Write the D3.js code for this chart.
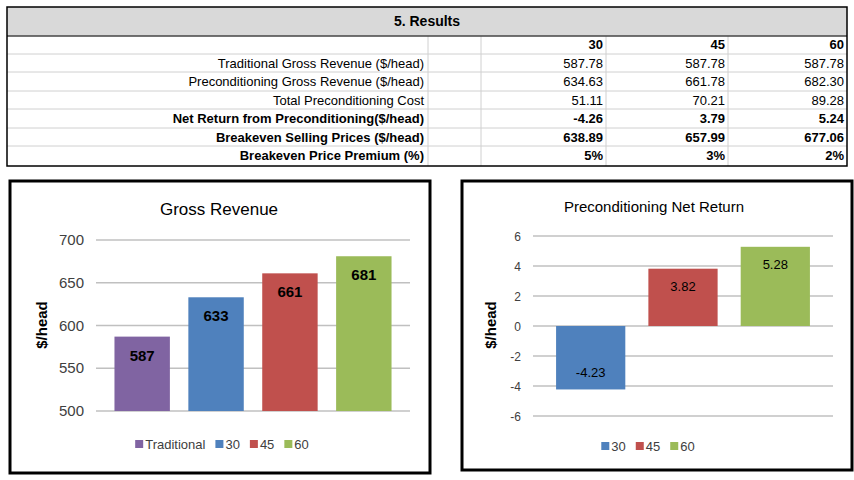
<!DOCTYPE html>
<html><head><meta charset="utf-8">
<script src="https://cdn.jsdelivr.net/npm/d3@7"></script>
<style>
body{margin:0;background:#fff;}
svg text{font-family:"Liberation Sans Narrow","Liberation Sans",Arial,sans-serif;}
</style></head>
<body><svg id="c" width="854" height="480"></svg>
<script>
// table data
const colHeads = ["30", "45", "60"];
const rowLabels = ["Traditional Gross Revenue ($/head)", "Preconditioning Gross Revenue ($/head)",
  "Total Preconditioning Cost", "Net Return from Preconditioning($/head)",
  "Breakeven Selling Prices ($/head)", "Breakeven Price Premium  (%)"];
const rowValues = [
  ["587.78", "587.78", "587.78"],
  ["634.63", "661.78", "682.30"],
  ["51.11", "70.21", "89.28"],
  ["-4.26", "3.79", "5.24"],
  ["638.89", "657.99", "677.06"],
  ["5%", "3%", "2%"]];
const rowBold = [false, false, false, true, true, true];
// chart data
const grossCats = ["Traditional", "30", "45", "60"];
const grossVals = [587, 633, 661, 681];
const netCats = ["30", "45", "60"];
const netVals = [-4.23, 3.82, 5.28];
const colors = {Traditional: "#8064a2", "30": "#4f81bd", "45": "#c0504d", "60": "#9bbb59"};

const svg = d3.select("#c");

// ---- table
const tX0 = 7, tX1 = 847;
const colEdges = [tX0, 428, 481, 606, 728, tX1];
const rowEdges = [7, 36, 54, 72, 91, 109, 128, 146, 166];
const t = svg.append("g");
t.append("rect").attr("x", tX0).attr("y", 7).attr("width", tX1 - tX0).attr("height", 29).attr("fill", "#d9d9d9");
t.append("text").attr("x", 427).attr("y", 26).attr("text-anchor", "middle")
  .attr("font-size", 14).attr("font-weight", "bold").text("5. Results");
rowEdges.slice(1, -1).forEach(y => t.append("line").attr("x1", tX0).attr("x2", tX1).attr("y1", y).attr("y2", y).attr("stroke", "#d0d0d0"));
colEdges.slice(1, -1).forEach(x => t.append("line").attr("x1", x).attr("x2", x).attr("y1", 36).attr("y2", 166).attr("stroke", "#d0d0d0"));
t.append("rect").attr("x", tX0).attr("y", 7).attr("width", tX1 - tX0).attr("height", 159)
  .attr("fill", "none").attr("stroke", "#000").attr("stroke-width", 1.5);
t.append("line").attr("x1", tX0).attr("x2", tX1).attr("y1", 36).attr("y2", 36).attr("stroke", "#000");
colHeads.forEach((h, j) => t.append("text").attr("x", colEdges[j + 3] - 3).attr("y", rowEdges[1] + 13)
  .attr("text-anchor", "end").attr("font-size", 13).attr("font-weight", "bold").text(h));
rowLabels.forEach((lab, i) => {
  const y = rowEdges[i + 2] + 14;
  const fw = rowBold[i] ? "bold" : "normal";
  t.append("text").attr("x", 424).attr("y", y).attr("text-anchor", "end").attr("font-size", 13)
    .attr("font-weight", fw).text(lab);
  rowValues[i].forEach((v, j) => t.append("text").attr("x", colEdges[j + 3] - 3).attr("y", y)
    .attr("text-anchor", "end").attr("font-size", 13).attr("font-weight", fw).text(v));
});

// ---- bar chart helper
function barChart(o) {
  const g = svg.append("g");
  g.append("rect").attr("x", o.box[0]).attr("y", o.box[1]).attr("width", o.box[2]).attr("height", o.box[3])
    .attr("fill", "#fff").attr("stroke", "#000").attr("stroke-width", 3);
  g.append("text").attr("x", o.titleX).attr("y", o.titleY).attr("text-anchor", "middle")
    .attr("font-size", o.titleSize).text(o.title);
  const y = d3.scaleLinear().domain(o.domain).range([o.plot[3], o.plot[1]]);
  const x = d3.scaleBand().domain(o.cats).range([o.plot[0], o.plot[2]]).paddingInner(0.25).paddingOuter(0.25);
  o.ticks.forEach(v => {
    g.append("line").attr("x1", o.plot[0]).attr("x2", o.plot[2]).attr("y1", y(v)).attr("y2", y(v))
      .attr("stroke", "#c0c0c0").attr("stroke-width", 1.5);
    g.append("text").attr("x", o.plot[0] - 12).attr("y", y(v) + 5).attr("text-anchor", "end")
      .attr("font-size", o.tickSize).attr("fill", "#404040").text(v);
  });
  const base = Math.max(o.domain[0], 0);
  g.selectAll(".b").data(o.vals).enter().append("rect")
    .attr("x", (d, i) => x(o.cats[i])).attr("width", x.bandwidth())
    .attr("y", d => y(Math.max(d, base))).attr("height", d => Math.abs(y(d) - y(base)))
    .attr("fill", (d, i) => colors[o.cats[i]]);
  g.selectAll(".l").data(o.vals).enter().append("text")
    .attr("x", (d, i) => x(o.cats[i]) + x.bandwidth() / 2)
    .attr("y", d => d >= base ? y(d) + o.labOff : y(d) - o.labOff + 10)
    .attr("text-anchor", "middle").attr("font-size", o.labSize).attr("font-weight", o.labWeight).text(d => d);
  g.append("text").attr("transform", `translate(${o.ylabX},${o.ylabY}) rotate(-90)`).attr("text-anchor", "middle")
    .attr("font-size", 15).attr("font-weight", "bold").style("font-family", "Liberation Sans, Arial").text("$/head");
  // legend
  const lg = g.append("g");
  let lx = 0;
  o.cats.forEach(c => {
    const item = lg.append("g").attr("transform", `translate(${lx},0)`);
    item.append("rect").attr("x", 0).attr("y", -9).attr("width", 8).attr("height", 8).attr("fill", colors[c]);
    const tx = item.append("text").attr("x", 10).attr("y", 0).attr("font-size", 13).attr("fill", "#404040").text(c);
    lx += 10 + tx.node().getComputedTextLength() + 10;
  });
  lg.attr("transform", `translate(${o.legCX - (lx - 10) / 2},${o.legY})`);
}

barChart({box: [10, 181, 420, 292], title: "Gross Revenue", titleX: 219, titleY: 215, titleSize: 17,
  plot: [96, 240, 410, 411], domain: [500, 700], ticks: [500, 550, 600, 650, 700], tickSize: 15,
  cats: grossCats, vals: grossVals, labOff: 24, labSize: 15, labWeight: "bold",
  ylabX: 47, ylabY: 325, legCX: 222, legY: 449});
barChart({box: [462, 181, 390, 289], title: "Preconditioning Net Return", titleX: 654, titleY: 212, titleSize: 15,
  plot: [533, 236, 833, 416], domain: [-6, 6], ticks: [-6, -4, -2, 0, 2, 4, 6], tickSize: 12,
  cats: netCats, vals: netVals, labOff: 22, labSize: 13, labWeight: "normal",
  ylabX: 496, ylabY: 325, legCX: 648, legY: 451});
</script></body></html>
